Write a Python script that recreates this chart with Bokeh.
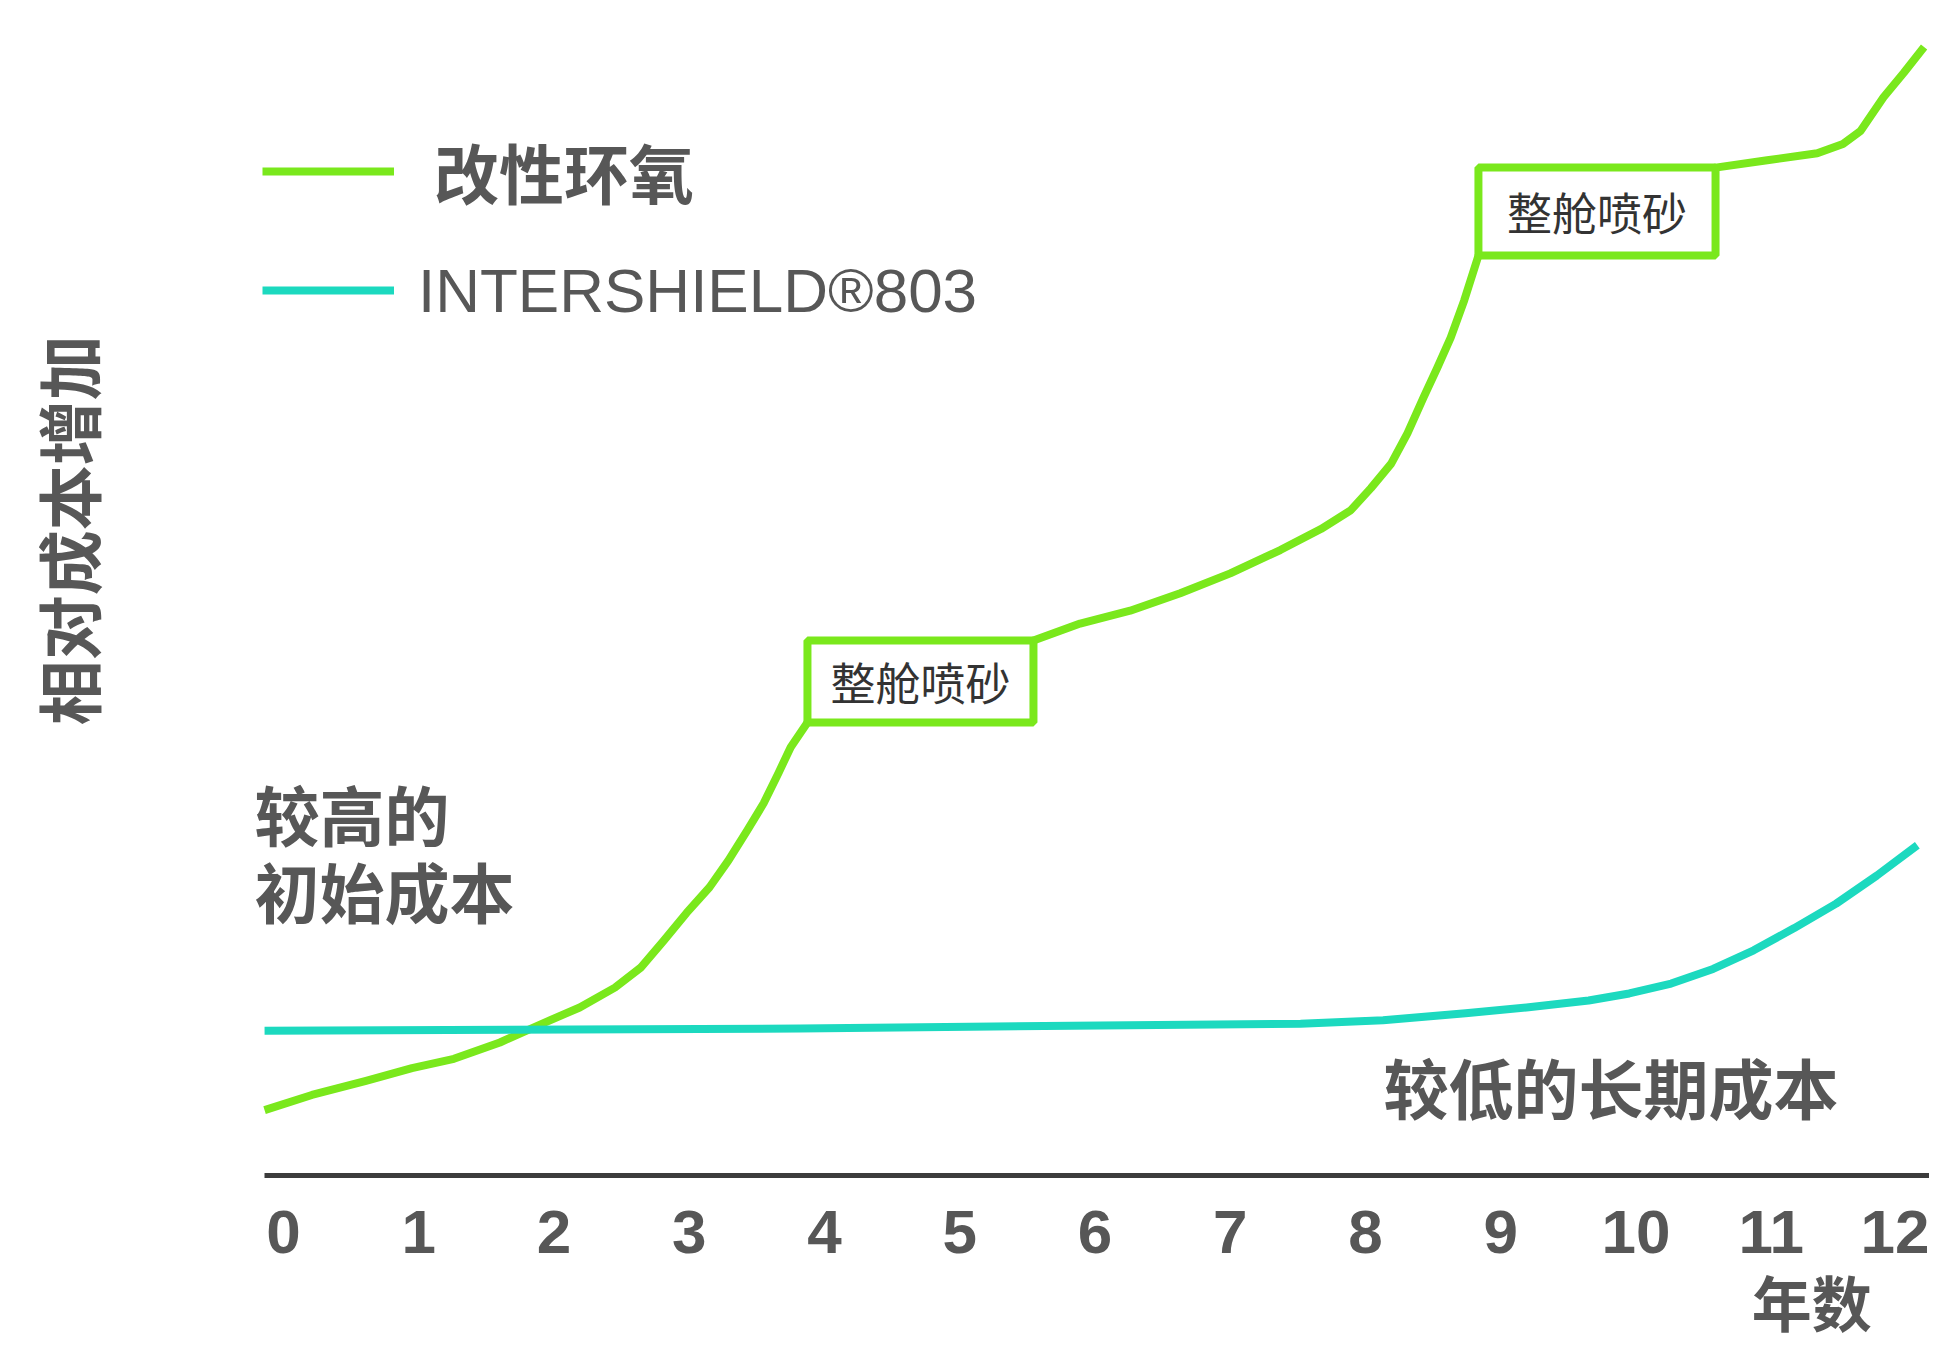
import math
from bokeh.plotting import figure
from bokeh.models import Label, Legend, LegendItem, FixedTicker, ColumnDataSource
from bokeh.core.properties import value
from bokeh.embed import file_html
from bokeh.resources import INLINE

# ---- data ----
years = list(range(13))
tick_labels = [str(y) for y in years]

epoxy_year = [-0.14, 0.21, 0.61, 0.95, 1.26, 1.60, 1.91, 2.19, 2.45, 2.64,
              2.81, 2.98, 3.15, 3.29, 3.43, 3.55, 3.66, 3.75, 3.874,
              5.545, 5.89, 6.26, 6.63, 7.00, 7.37, 7.67, 7.89, 8.04, 8.19,
              8.31, 8.43, 8.53, 8.63, 8.73, 8.835,
              10.588, 10.97, 11.34, 11.53, 11.66, 11.83, 11.98, 12.13]
epoxy_cost = [0.56, 0.69, 0.81, 0.92, 1.00, 1.14, 1.30, 1.44, 1.61, 1.78,
              2.01, 2.25, 2.47, 2.70, 2.96, 3.19, 3.45, 3.67, 3.882,
              4.584, 4.73, 4.84, 4.99, 5.16, 5.36, 5.54, 5.70, 5.89, 6.10,
              6.36, 6.67, 6.92, 7.18, 7.50, 7.883,
              8.637, 8.70, 8.76, 8.84, 8.95, 9.24, 9.45, 9.67]

inter_year = [-0.14, 3.82, 6.04, 7.52, 8.13, 8.74, 9.19, 9.65, 9.95, 10.26,
              10.57, 10.87, 11.17, 11.48, 11.78, 12.08]
inter_cost = [1.24, 1.26, 1.285, 1.30, 1.33, 1.39, 1.44, 1.50, 1.56, 1.645,
              1.77, 1.93, 2.12, 2.33, 2.57, 2.83]

blast_start = [3.874, 8.835]
blast_end = [5.545, 10.588]
blast_low = [3.882, 7.883]
blast_high = [4.584, 8.637]
blast_text = ["整舱喷砂", "整舱喷砂"]

series_names = ["改性环氧", "INTERSHIELD®803"]
y_title = "相对成本增加"
x_title = "年数"
note_high = ["较高的", "初始成本"]
note_low = "较低的长期成本"

GREEN = "#7ae81c"
CYAN = "#1cd9bf"
GRAY = "#575757"

p = figure(width=1929, height=1343, x_range=(-2.0924, 12.170), y_range=(-1.4396, 10.069),
           output_backend="svg", toolbar_location=None, y_axis_location=None,
           min_border=0)
p.outline_line_color = None
p.xgrid.visible = False
p.ygrid.visible = False
p.background_fill_color = "white"
p.border_fill_color = "white"

ax = p.xaxis[0]
ax.fixed_location = 0
ax.bounds = (-0.1405, 12.185)
ax.ticker = FixedTicker(ticks=years)
ax.major_label_overrides = {y: t for y, t in zip(years, tick_labels)}
ax.axis_line_color = "#3c3c3c"
ax.axis_line_width = 5
ax.major_tick_line_color = None
ax.minor_tick_line_color = None
ax.major_label_standoff = 29
ax.major_label_text_font = "Liberation Sans"
ax.major_label_text_font_style = "bold"
ax.major_label_text_font_size = "62px"
ax.major_label_text_color = GRAY

g = p.line(epoxy_year, epoxy_cost, line_color=GREEN, line_width=8, line_join="round")
c = p.line(inter_year, inter_cost, line_color=CYAN, line_width=8, line_join="round")

bsrc = ColumnDataSource(dict(l=blast_start, r=blast_end, b=blast_low, t=blast_high,
                             xm=[(a + b) / 2 for a, b in zip(blast_start, blast_end)],
                             ym=[(a + b) / 2 for a, b in zip(blast_low, blast_high)],
                             txt=blast_text))
p.quad(left="l", right="r", bottom="b", top="t", source=bsrc,
       fill_color="white", line_color=GREEN, line_width=8)
p.text(x="xm", y="ym", text="txt", source=bsrc, text_align="center", text_baseline="middle",
       text_font=value("Noto Sans CJK SC"), text_font_size="45px", text_color="#333333")

leg1 = Legend(items=[LegendItem(label=series_names[0], renderers=[g])],
              location=(262, 1122), padding=0, margin=0, spacing=0,
              glyph_width=132, glyph_height=100, label_height=100, label_standoff=40,
              label_text_font="Noto Sans CJK SC", label_text_font_style="bold",
              label_text_font_size="65px", label_text_color=GRAY,
              border_line_alpha=0, background_fill_alpha=0)
leg2 = Legend(items=[LegendItem(label=series_names[1], renderers=[c])],
              location=(262, 1003), padding=0, margin=0, spacing=0,
              glyph_width=132, glyph_height=100, label_height=100, label_standoff=24,
              label_text_font="Liberation Sans", label_text_font_style="normal",
              label_text_font_size="62px", label_text_color=GRAY,
              border_line_alpha=0, background_fill_alpha=0)
p.add_layout(leg1)
p.add_layout(leg2)

def lab(text, x, y, **kw):
    opts = dict(text_font="Noto Sans CJK SC", text_font_style="bold",
                text_font_size="65px", text_color=GRAY, text_baseline="middle")
    opts.update(kw)
    p.add_layout(Label(x=x, y=y, text=text, **opts))

lab(y_title, -1.60, 5.53, angle=math.pi / 2, text_align="center")
lab(note_high[0], -0.214, 3.11, text_align="left")
lab(note_high[1], -0.214, 2.45, text_align="left")
lab(note_low, 8.133, 0.77, text_align="left")
lab(x_title, 11.30, -1.07, text_align="center", text_font_size="60px")

open("out.html", "w").write(file_html(p, INLINE))
